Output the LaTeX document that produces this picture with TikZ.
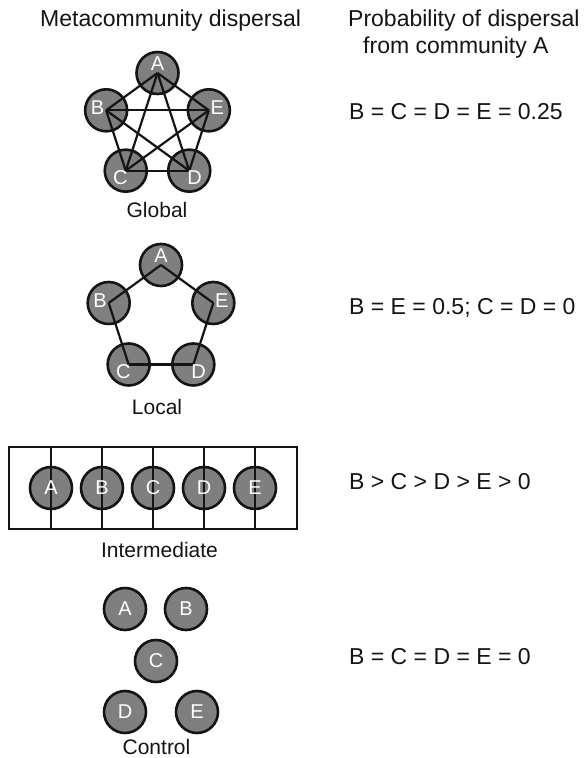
\documentclass[tikz,border=0pt]{standalone}
\usepackage{fontspec}
\setmainfont{Liberation Sans}
\usetikzlibrary{calc}
\definecolor{commgray}{HTML}{7F7F7F}
\definecolor{inkdark}{HTML}{141414}

\begin{document}
\begin{tikzpicture}[x=1pt, y=1pt,
    comm/.style={circle, draw=inkdark, line width=2.6pt, fill=commgray, minimum size=42pt, inner sep=0pt, text=white, font=\fontsize{20}{21}\selectfont},
    lab/.style={text=white, font=\fontsize{20}{21}\selectfont, inner sep=0pt},
    heading/.style={anchor=base west, text=inkdark, font=\fontsize{23}{27}\selectfont, inner sep=0pt},
    caption/.style={anchor=base, text=inkdark, font=\fontsize{21}{25}\selectfont, inner sep=0pt},
    link/.style={line width=2.2pt, draw=inkdark}
]
    \useasboundingbox (0,0) rectangle (585,758);

    \node[heading] (title) at (40,731) {Metacommunity dispersal};
    \node[heading] (probhead) at (348,731) {Probability of dispersal};
    \node[heading] (probsub) at (363,704) {from community A};

    \foreach \n/\a in {A/90,B/162,C/234,D/306,E/18}
        \node[comm] (g\n) at ($(157.5,631)+(\a:54)$) {};
    \foreach \s/\t in {A/B,A/C,A/D,A/E,B/C,B/D,B/E,C/D,C/E,D/E}
        \draw[link] (g\s.center) -- (g\t.center);
    \foreach \n/\a in {A/90,B/162,C/234,D/306,E/18}
        \node[lab] (gl\n) at ($(157.5,631)+(\a:63)$) {\n};
    \node[caption] (global) at (157,540) {Global};
    \node[heading] (probglobal) at (349,638) {B = C = D = E = 0.25};

    \foreach \n/\a in {A/90,B/162,C/234,D/306,E/18}
        \node[comm] (l\n) at ($(161,438)+(\a:55)$) {};
    \foreach \s/\t in {A/B,B/C,C/D,D/E,E/A}
        \draw[link] (l\s.center) -- (l\t.center);
    \foreach \n/\a in {A/90,B/162,C/234,D/306,E/18}
        \node[lab] (ll\n) at ($(161,438)+(\a:64)$) {\n};
    \node[caption] (local) at (157,343) {Local};
    \node[heading] (problocal) at (349,443) {B = E = 0.5; C = D = 0};

    \node[draw=inkdark, line width=2.2pt, minimum width=288pt, minimum height=82pt, inner sep=0pt] (chain) at (153,270) {};
    \foreach \n/\x in {A/51,B/102,C/153,D/204,E/255}
        \node[comm] (i\n) at (\x,270) {};
    \foreach \n in {A,B,C,D,E}
        \draw[link] (chain.north -| i\n) -- (chain.south -| i\n);
    \foreach \n in {A,B,C,D,E}
        \node[lab] (il\n) at (i\n) {\n};
    \node[caption] (intermediate) at (159.5,200) {Intermediate};
    \node[heading] (probinter) at (349,268) {B > C > D > E > 0};

    \node[comm] (cA) at (125,149) {A};
    \node[comm] (cB) at (186,149) {B};
    \node[comm] (cC) at (156,97) {C};
    \node[comm] (cD) at (125,46) {D};
    \node[comm] (cE) at (197,46) {E};
    \node[caption] (control) at (156.5,4) {Control};
    \node[heading] (probcontrol) at (349,93) {B = C = D = E = 0};
\end{tikzpicture}
\end{document}
